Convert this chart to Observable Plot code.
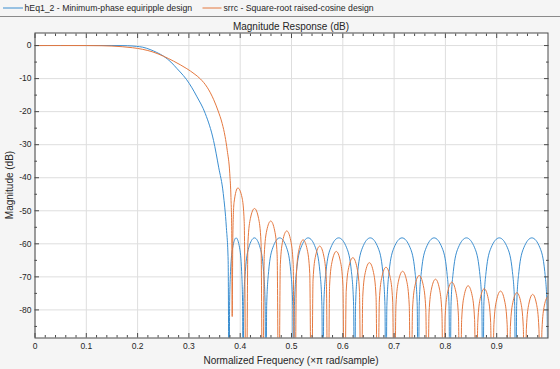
<!DOCTYPE html>
<html><head><meta charset="utf-8">
<script src="https://cdn.jsdelivr.net/npm/d3@7"></script>
<script src="https://cdn.jsdelivr.net/npm/@observablehq/plot@0.6"></script>
<style>
html,body{margin:0;padding:0;background:#f5f5f5;}
#chart{position:relative;width:560px;height:369px;overflow:hidden;}
</style></head><body><div id="chart"></div>
<script>
const seriesNames = ["hEq1_2 - Minimum-phase equiripple design", "srrc - Square-root raised-cosine design"];
const seriesColors = ["#3b8ed0", "#e4783f"];
const titleText = "Magnitude Response (dB)";
const xLabel = "Normalized Frequency (\u00D7\u03C0 rad/sample)";
const yLabel = "Magnitude (dB)";

const xTicks = [0, 0.1, 0.2, 0.3, 0.4, 0.5, 0.6, 0.7, 0.8, 0.9];
const xMinor = [0.02,0.04,0.06,0.08,0.12,0.14,0.16,0.18,0.22,0.24,0.26,0.28,0.32,0.34,0.36,0.38,0.42,0.44,0.46,0.48,0.52,0.54,0.56,0.58,0.62,0.64,0.66,0.68,0.72,0.74,0.76,0.78,0.82,0.84,0.86,0.88,0.92,0.94,0.96,0.98];
const yTicks = [0, -10, -20, -30, -40, -50, -60, -70, -80];
const yMinor = [-5, -15, -25, -35, -45, -55, -65, -75, -85];

// hEq1_2 (blue): frequency (x pi rad/sample) and magnitude (dB)
const blueFreq = [0, 0.05, 0.1, 0.15, 0.18, 0.198, 0.21, 0.2243, 0.2375, 0.2505, 0.265, 0.277, 0.283, 0.295, 0.306, 0.315, 0.332, 0.348, 0.358, 0.367, 0.373, 0.3765, 0.3785,
  0.3793, 0.3812, 0.3853, 0.392, 0.3988, 0.4028, 0.4047, 0.4055,
  0.4068, 0.4100, 0.4166, 0.4278, 0.4389, 0.4456, 0.4487, 0.450,
  0.4516, 0.4554, 0.4635, 0.477, 0.4905, 0.4986, 0.5024, 0.504,
  0.5057, 0.5097, 0.5183, 0.5325, 0.5468, 0.5553, 0.5593, 0.561,
  0.5629, 0.5672, 0.5765, 0.592, 0.6075, 0.6168, 0.6211, 0.623,
  0.6248, 0.6291, 0.6383, 0.6535, 0.6688, 0.6779, 0.6822, 0.684,
  0.6859, 0.6903, 0.6998, 0.7155, 0.7313, 0.7407, 0.7451, 0.747,
  0.7489, 0.7532, 0.7625, 0.778, 0.7935, 0.8028, 0.8071, 0.809,
  0.8109, 0.8154, 0.825, 0.841, 0.857, 0.8666, 0.8711, 0.873,
  0.8749, 0.8794, 0.889, 0.905, 0.921, 0.9306, 0.9351, 0.937,
  0.9389, 0.9433, 0.9528, 0.9685, 0.9843, 0.9937, 0.9981, 1.0];
const blueMag = [0, 0.02, 0, 0.02, -0.05, -0.25, -0.5, -1.2, -2.1, -3.2, -5.0, -7.0, -8.0, -10.2, -12.8, -15.3, -20.6, -28.7, -36.8, -44.8, -55, -65, -120,
  -78.7, -68.4, -61.2, -58.2, -61.2, -68.4, -78.7, -120,
  -78.7, -68.4, -61.2, -58.2, -61.2, -68.4, -78.7, -120,
  -78.7, -68.4, -61.2, -58.2, -61.2, -68.4, -78.7, -120,
  -78.7, -68.4, -61.2, -58.2, -61.2, -68.4, -78.7, -120,
  -78.7, -68.4, -61.2, -58.2, -61.2, -68.4, -78.7, -120,
  -78.7, -68.4, -61.2, -58.2, -61.2, -68.4, -78.7, -120,
  -78.7, -68.4, -61.2, -58.2, -61.2, -68.4, -78.7, -120,
  -78.7, -68.4, -61.2, -58.2, -61.2, -68.4, -78.7, -120,
  -78.7, -68.4, -61.2, -58.2, -61.2, -68.4, -78.7, -120,
  -78.7, -68.4, -61.2, -58.2, -61.2, -68.4, -78.7, -120,
  -78.7, -68.4, -61.2, -58.2, -61.2, -68.4, -78.7, -120];

// srrc (orange)
const orangeFreq = [0, 0.05, 0.1, 0.13, 0.15, 0.17, 0.19, 0.21, 0.23, 0.25, 0.27, 0.283, 0.296, 0.31, 0.3224, 0.3355, 0.3484, 0.357, 0.3649, 0.3705, 0.3747, 0.3797, 0.382, 0.3835, 0.3844,
  0.3856, 0.3880, 0.3954, 0.4037, 0.4078, 0.4119,
  0.4151, 0.4199, 0.4279, 0.4358, 0.4406, 0.4438,
  0.4469, 0.4516, 0.4595, 0.4673, 0.4720, 0.4751,
  0.4782, 0.4829, 0.4908, 0.4986, 0.5033, 0.5064,
  0.5096, 0.5145, 0.5226, 0.5307, 0.5356, 0.5388,
  0.5420, 0.5469, 0.5550, 0.5630, 0.5679, 0.5711,
  0.5743, 0.5792, 0.5873, 0.5953, 0.6002, 0.6034,
  0.6066, 0.6115, 0.6196, 0.6276, 0.6325, 0.6357,
  0.6389, 0.6438, 0.6519, 0.6599, 0.6648, 0.6680,
  0.6712, 0.6761, 0.6842, 0.6923, 0.6972, 0.7004,
  0.7036, 0.7085, 0.7166, 0.7246, 0.7295, 0.7327,
  0.7359, 0.7408, 0.7489, 0.7569, 0.7618, 0.7650,
  0.7681, 0.7728, 0.7807, 0.7885, 0.7932, 0.7963,
  0.7995, 0.8044, 0.8125, 0.8205, 0.8254, 0.8286,
  0.8317, 0.8365, 0.8443, 0.8522, 0.8569, 0.8600,
  0.8631, 0.8678, 0.8757, 0.8835, 0.8882, 0.8913,
  0.8945, 0.8994, 0.9075, 0.9155, 0.9204, 0.9236,
  0.9267, 0.9314, 0.9393, 0.9471, 0.9518, 0.9549,
  0.9579, 0.9625, 0.9701, 0.9777, 0.9823, 0.9853,
  0.9882, 0.9927, 1.0];
const orangeMag = [0, 0, 0, -0.05, -0.15, -0.35, -0.65, -1.15, -1.95, -3.2, -4.7, -5.8, -7.0, -8.5, -10.1, -12.6, -16.4, -19.8, -23.6, -27.5, -31.7, -38.8, -46, -56, -82,
  -58, -47.5, -43.1, -46.1, -53.3, -120,
  -59.5, -52.3, -49.3, -52.3, -59.5, -120,
  -63.3, -56.1, -53.1, -56.1, -63.3, -120,
  -66.3, -59.1, -56.1, -59.1, -66.3, -120,
  -69.0, -61.8, -58.8, -61.8, -69.0, -120,
  -70.9, -63.7, -60.7, -63.7, -70.9, -120,
  -72.5, -65.3, -62.3, -65.3, -72.5, -120,
  -74.4, -67.2, -64.2, -67.2, -74.4, -120,
  -75.9, -68.7, -65.7, -68.7, -75.9, -120,
  -77.3, -70.1, -67.1, -70.1, -77.3, -120,
  -78.5, -71.3, -68.3, -71.3, -78.5, -120,
  -79.8, -72.6, -69.6, -72.6, -79.8, -120,
  -80.9, -73.7, -70.7, -73.7, -80.9, -120,
  -81.8, -74.6, -71.6, -74.6, -81.8, -120,
  -82.9, -75.7, -72.7, -75.7, -82.9, -120,
  -83.8, -76.6, -73.6, -76.6, -83.8, -120,
  -84.5, -77.3, -74.3, -77.3, -84.5, -120,
  -85.0, -77.8, -74.8, -77.8, -85.0, -120,
  -85.5, -78.3, -75.3, -78.3, -85.5, -120,
  -86.0, -78.8, -75.8];

const rows = (f, m, s) => f.map((x, i) => ({f: x, db: m[i], series: s}));
const blueRows = rows(blueFreq, blueMag, seriesNames[0]);
const orangeRows = rows(orangeFreq, orangeMag, seriesNames[1]);

const axisColor = "#4a4a4a";
const textColor = "#262626";
const fmt = d => String(d);

const plot = Plot.plot({
  width: 560, height: 369,
  marginLeft: 34.5, marginRight: 12.5, marginTop: 32.5, marginBottom: 31.5,
  style: {background: "transparent", fontFamily: "'Liberation Sans', Arial, Helvetica, sans-serif", fontSize: "8.5px", color: textColor},
  x: {domain: [0, 1]},
  y: {domain: [-88.5, 3.8]},
  marks: [
    Plot.frame({fill: "white", stroke: null}),
    Plot.gridX(xTicks, {stroke: "#dedede", strokeOpacity: 1}),
    Plot.gridY(yTicks, {stroke: "#dedede", strokeOpacity: 1}),
    Plot.line(blueRows, {x: "f", y: "db", stroke: seriesColors[0], strokeWidth: 1, curve: "monotone-x", clip: true}),
    Plot.line(orangeRows, {x: "f", y: "db", stroke: seriesColors[1], strokeWidth: 1, curve: "monotone-x", clip: true}),
    Plot.axisX(xTicks, {anchor: "bottom", tickSize: -4.5, fill: "none", stroke: axisColor, label: null}),
    Plot.axisX(xTicks, {anchor: "top", tickSize: -4.5, fill: "none", stroke: axisColor, label: null}),
    Plot.axisX(xMinor, {anchor: "bottom", tickSize: -2.5, fill: "none", stroke: axisColor, label: null}),
    Plot.axisX(xMinor, {anchor: "top", tickSize: -2.5, fill: "none", stroke: axisColor, label: null}),
    Plot.axisY(yTicks, {anchor: "left", tickSize: -4.5, fill: "none", stroke: axisColor, label: null}),
    Plot.axisY(yTicks, {anchor: "right", tickSize: -4.5, fill: "none", stroke: axisColor, label: null}),
    Plot.axisY(yMinor, {anchor: "left", tickSize: -2.5, fill: "none", stroke: axisColor, label: null}),
    Plot.axisY(yMinor, {anchor: "right", tickSize: -2.5, fill: "none", stroke: axisColor, label: null}),
    Plot.axisX(xTicks, {anchor: "bottom", tickSize: 0, tickPadding: 5, tickFormat: fmt, fill: textColor, label: null}),
    Plot.axisY(yTicks, {anchor: "left", tickSize: 0, tickPadding: 3.5, tickFormat: fmt, fill: textColor, label: null}),
    Plot.frame({stroke: axisColor, strokeWidth: 1})
  ]
});

document.getElementById("chart").appendChild(plot);

// Legend, title and axis titles
const svg = d3.select(plot);
const ff = "'Liberation Sans', Arial, Helvetica, sans-serif";
svg.append("line").attr("x1", 0).attr("x2", 560).attr("y1", 16.5).attr("y2", 16.5).attr("stroke", "#8a8a8a");
const legendPos = [{x1: 3, x2: 23, tx: 24.5}, {x1: 202.5, x2: 221.5, tx: 223.5}];
seriesNames.forEach((name, i) => {
  const p = legendPos[i];
  svg.append("line").attr("x1", p.x1).attr("x2", p.x2).attr("y1", 8).attr("y2", 8).attr("stroke", seriesColors[i]).attr("stroke-width", 1);
  svg.append("text").attr("x", p.tx).attr("y", 11).attr("text-anchor", "start").attr("font-family", ff).attr("font-size", "8.7px").attr("fill", textColor).text(name);
});
svg.append("text").attr("x", 291).attr("y", 30).attr("text-anchor", "middle").attr("font-family", ff).attr("font-size", "10px").attr("fill", textColor).text(titleText);
svg.append("text").attr("x", 291).attr("y", 363.5).attr("text-anchor", "middle").attr("font-family", ff).attr("font-size", "10px").attr("fill", textColor).text(xLabel);
svg.append("text").attr("transform", "translate(13,185) rotate(-90)").attr("text-anchor", "middle").attr("font-family", ff).attr("font-size", "10px").attr("fill", textColor).text(yLabel);
</script></body></html>
